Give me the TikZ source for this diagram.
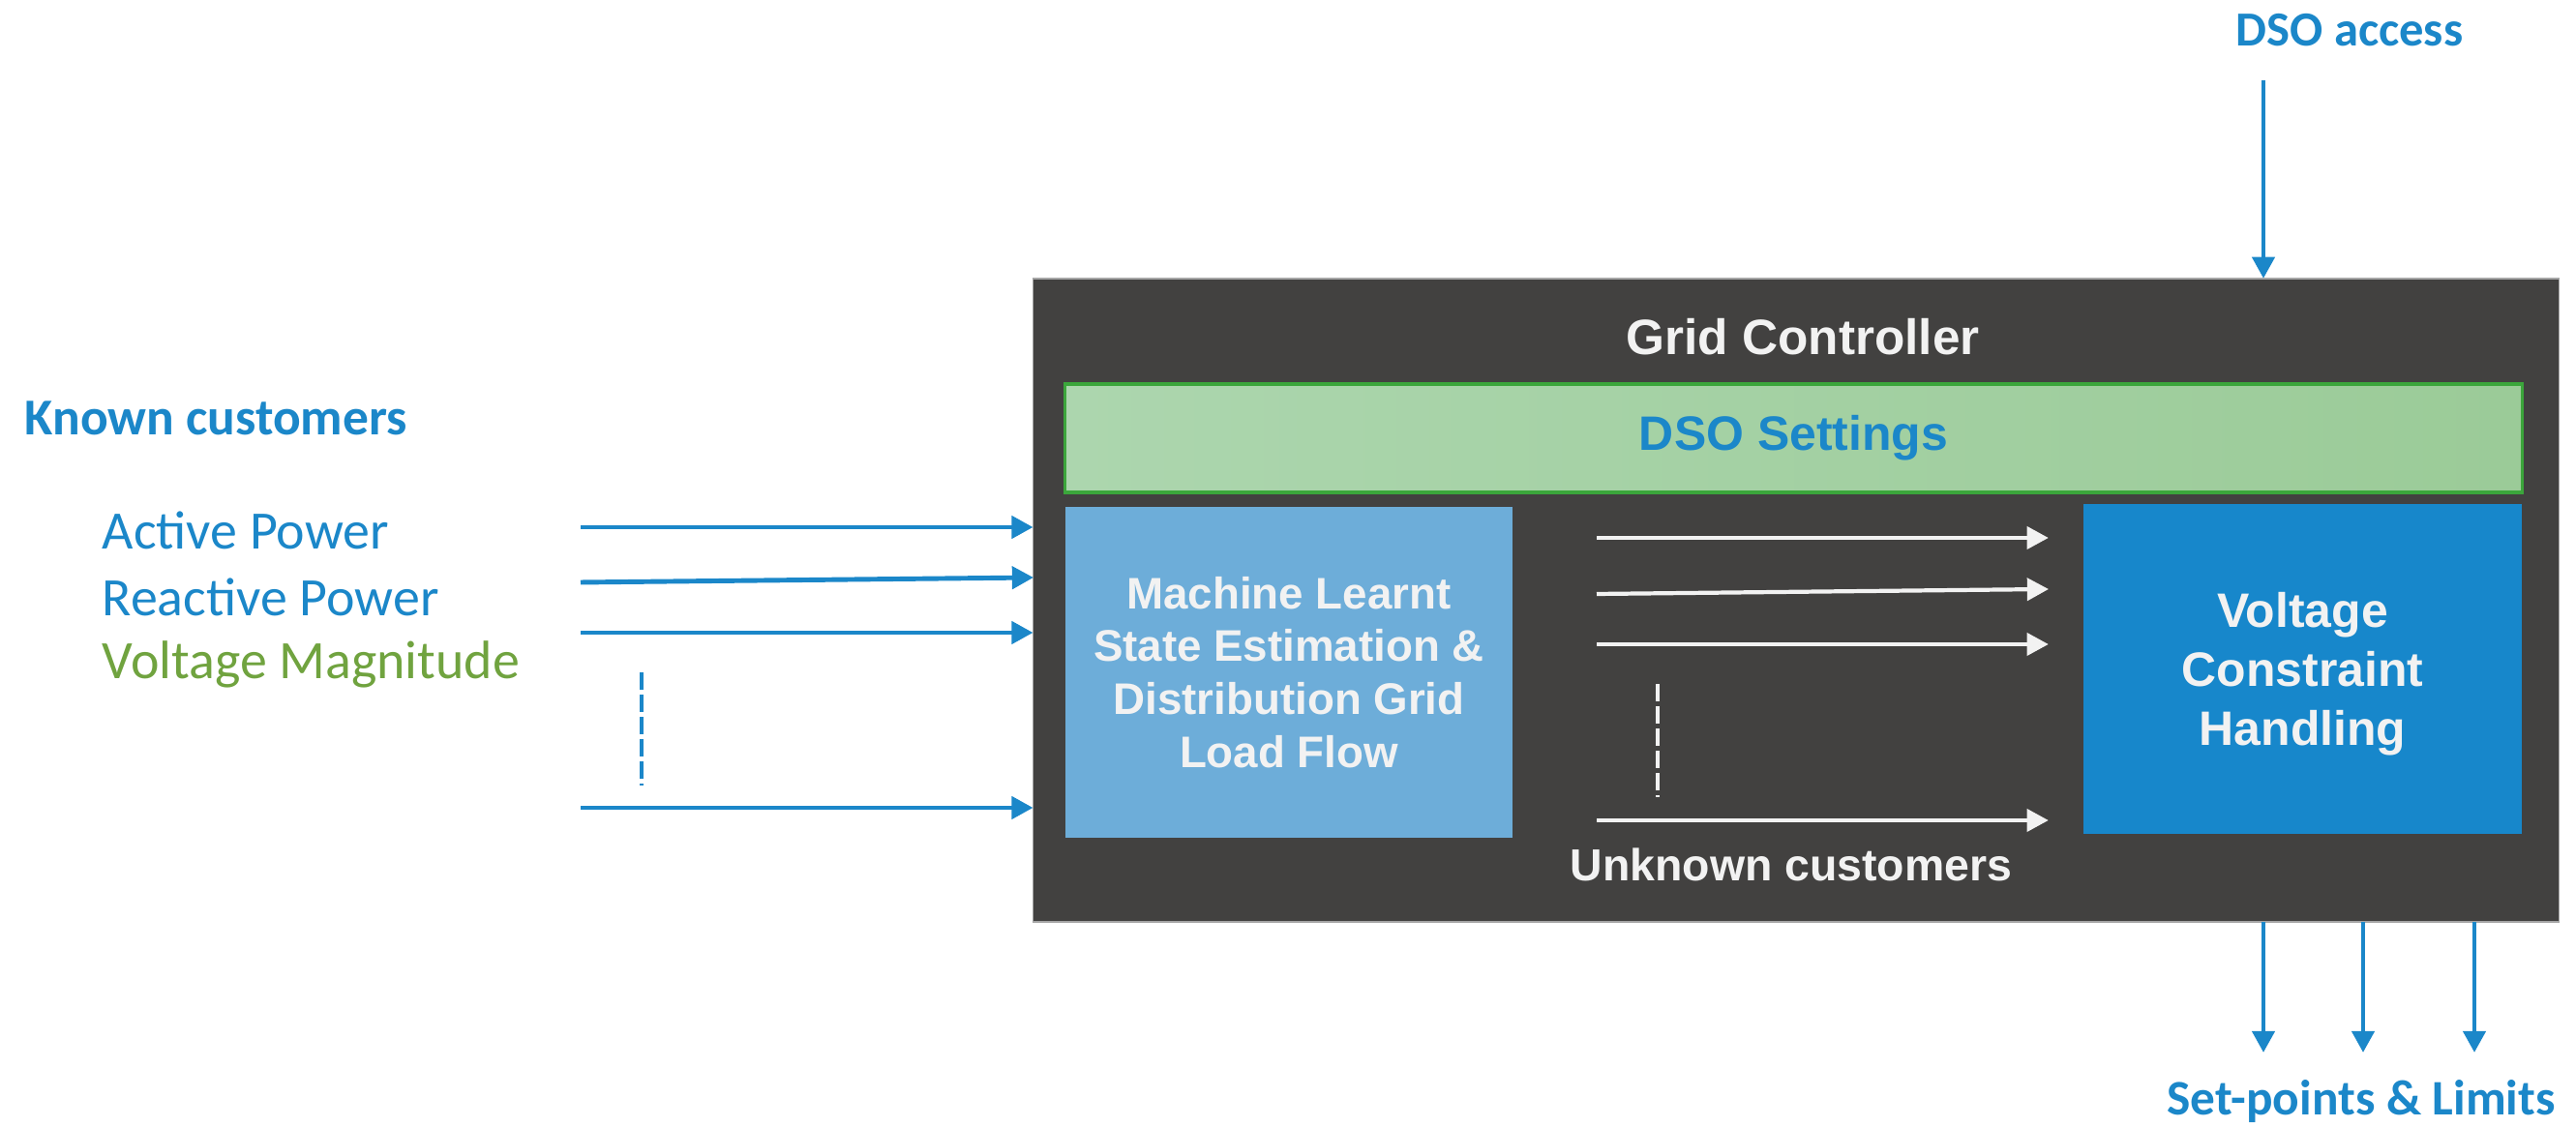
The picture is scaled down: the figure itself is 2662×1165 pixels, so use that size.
\documentclass[tikz,border=0pt]{standalone}
\usepackage{fontspec}
\setmainfont{Liberation Sans}
\newfontfamily\calib{Carlito}
\usetikzlibrary{arrows.meta}
\definecolor{cblue}{HTML}{1B87C9}
\definecolor{cgreen}{HTML}{70A33F}
\definecolor{cdark}{HTML}{424140}
\definecolor{cleft}{HTML}{6DADD9}
\definecolor{cright}{HTML}{1787CB}
\definecolor{cwhite}{HTML}{F2F2F2}
\definecolor{cgl}{HTML}{ACD6AE}
\definecolor{cgr}{HTML}{9BCB98}
\definecolor{cgborder}{HTML}{3BA63B}
\definecolor{cgrey}{HTML}{A6A6A6}
\begin{document}
\begin{tikzpicture}[x=0.01cm,y=-0.01cm,
  boxnode/.style={inner sep=0pt,outer sep=0pt,align=center},
  barrow/.style={draw=cblue,line width=1.4pt,-{Triangle[length=6.3pt,width=6.5pt]}},
  warrow/.style={draw=cwhite,line width=1.2pt,-{Triangle[length=6.3pt,width=6.5pt]}},
  dashline/.style={line width=1.2pt,dash pattern=on 0.18cm off 0.05cm},
  bluelabel/.style={text=cblue,font=\calib\bfseries\fontsize{14.4pt}{17pt}\selectfont,inner sep=0pt,anchor=base},
  inlabel/.style={font=\calib\fontsize{15.9pt}{19pt}\selectfont,inner sep=0pt,anchor=base west}]
\useasboundingbox (0,0) rectangle (2662,1165);

% main dark box
\node[boxnode,fill=cdark,draw=cgrey,line width=0.5pt,minimum width=15.76cm,minimum height=6.65cm] (gc) at (1856,620.5) {};
\node[font=\bfseries\fontsize{14.6pt}{17pt}\selectfont,text=cwhite,inner sep=0pt,anchor=base] (gct) at (1863,367) {Grid Controller};

% DSO settings
\node[boxnode,left color=cgl,right color=cgr,draw=cgborder,line width=0.9pt,minimum width=15.05cm,minimum height=1.12cm,
  font=\bfseries\fontsize{14.2pt}{17pt}\selectfont,text=cblue] (dso) at (1853.5,453) {DSO Settings};

% left box
\node[boxnode,fill=cleft,minimum width=4.62cm,minimum height=3.42cm,
  font=\bfseries\fontsize{13pt}{15.6pt}\selectfont,text=cwhite] (ml) at (1332,695)
  {Machine Learnt\\State Estimation \&\\Distribution Grid\\Load Flow};

% right box
\node[boxnode,fill=cright,minimum width=4.53cm,minimum height=3.41cm,text depth=0pt,
  font=\bfseries\fontsize{14.2pt}{17.4pt}\selectfont,text=cwhite] (vc) at (2379.5,691.5)
  {Voltage\\Constraint\\Handling};

\node[font=\bfseries\fontsize{13.2pt}{16pt}\selectfont,text=cwhite,inner sep=0pt,anchor=base] (unk) at (1851,911) {Unknown customers};

% left labels
\node[bluelabel,anchor=base west,font=\calib\bfseries\fontsize{15.2pt}{18pt}\selectfont] (kc) at (25,450) {Known customers};
\node[inlabel,text=cblue] (ap) at (105,568) {Active Power};
\node[inlabel,text=cblue] (rp) at (105,637) {Reactive Power};
\node[inlabel,text=cgreen] (vm) at (105,702) {Voltage Magnitude};

% input arrows
\coordinate (i1) at (600,545);
\coordinate (i2) at (600,602);
\coordinate (i2e) at (1068,597);
\coordinate (i3) at (600,654);
\coordinate (i4) at (600,835);
\draw[barrow] (i1) -- (i1 -| gc.west);
\draw[barrow] (i2) -- (i2e);
\draw[barrow] (i3) -- (i3 -| gc.west);
\draw[barrow] (i4) -- (i4 -| gc.west);
\coordinate (d1) at (663,695);
\coordinate (d2) at (663,812);
\draw[dashline,cblue] (d1) -- (d2);

% inner white arrows
\coordinate (w1) at (1650,556);
\coordinate (w2) at (1650,614);
\coordinate (w2e) at (2117,609);
\coordinate (w3) at (1650,666);
\coordinate (w4) at (1650,848);
\draw[warrow,shorten >=0.36cm] (w1) -- (w1 -| vc.west);
\draw[warrow] (w2) -- (w2e);
\draw[warrow,shorten >=0.36cm] (w3) -- (w3 -| vc.west);
\draw[warrow,shorten >=0.36cm] (w4) -- (w4 -| vc.west);
\coordinate (e1) at (1713,707);
\coordinate (e2) at (1713,824);
\draw[dashline,cwhite] (e1) -- (e2);

% DSO access
\node[bluelabel] (acc) at (2428,48) {DSO access};
\coordinate (a0) at (2339,83);
\draw[barrow] (a0) -- (a0 |- gc.north);

% outputs
\coordinate (o1) at (2339,1088);
\coordinate (o2) at (2442,1088);
\coordinate (o3) at (2557,1088);
\draw[barrow] (o1 |- gc.south) -- (o1);
\draw[barrow] (o2 |- gc.south) -- (o2);
\draw[barrow] (o3 |- gc.south) -- (o3);
\node[bluelabel,font=\calib\bfseries\fontsize{14.6pt}{17pt}\selectfont] (sp) at (2440,1153) {Set-points \& Limits};
\end{tikzpicture}
\end{document}
